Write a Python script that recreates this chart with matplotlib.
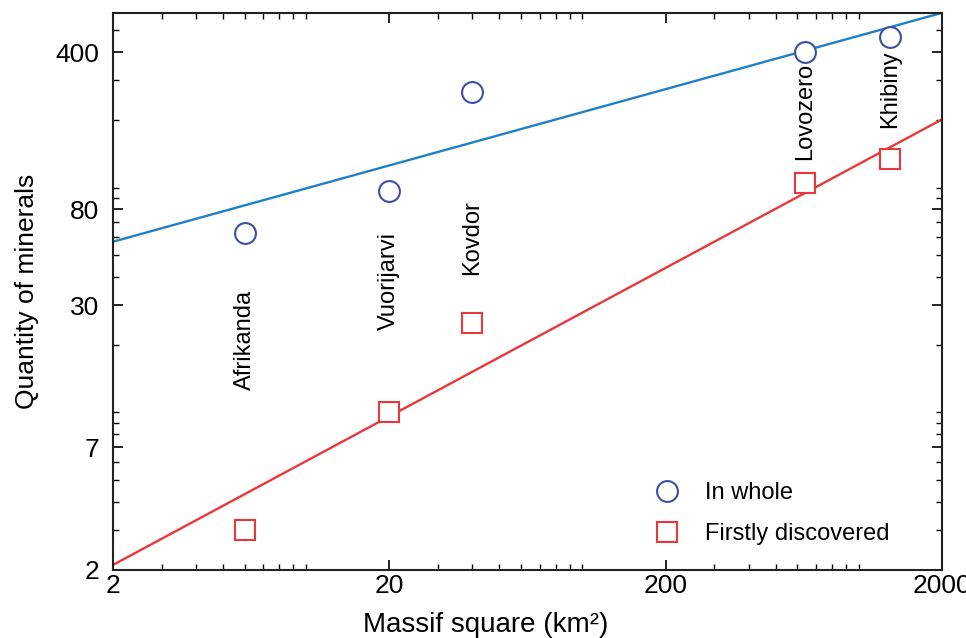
import matplotlib
matplotlib.use('Agg')
import matplotlib.pyplot as plt
from matplotlib.ticker import FixedLocator, LogLocator, NullFormatter
import numpy as np

plt.rcParams['font.family'] = ['Liberation Sans', 'DejaVu Sans']

# ── Data ────────────────────────────────────────────────────────────────────
massifs      = ['Afrikanda', 'Vuorijarvi', 'Kovdor', 'Lovozero', 'Khibiny']
area_km2     = [6, 20, 40, 640, 1300]
n_whole      = [63, 96, 266, 400, 468]
n_first      = [3, 10, 25, 105, 134]
label_y      = [12.6, 23.3, 41, 133, 184]   # where each name starts (bottom)

# power-law fits y = a * x**b
fit_whole = (45.4, 0.339)
fit_first = (1.33, 0.660)

x_ticks = [2, 20, 200, 2000]
y_ticks = [2, 7, 30, 80, 400]

BLUE_PT  = '#3c4fa3'
BLUE_LN  = '#1f80c8'
RED      = '#e8383b'

# ── Plot ────────────────────────────────────────────────────────────────────
fig = plt.figure(figsize=(9.66, 6.38), dpi=100)
ax = fig.add_axes([0.117, 0.107, 0.858, 0.873])
ax.set_xscale('log')
ax.set_yscale('log')
ax.set_xlim(2, 2000)
ax.set_ylim(2, 598)

xx = np.logspace(np.log10(2), np.log10(2000), 50)
ax.plot(xx, fit_whole[0] * xx ** fit_whole[1], color=BLUE_LN, lw=1.7, zorder=2)
ax.plot(xx, fit_first[0] * xx ** fit_first[1], color=RED, lw=1.7, zorder=2)

ax.plot(area_km2, n_whole, 'o', ms=15, mfc='white', mec=BLUE_PT, mew=1.5,
        ls='none', label='In whole', zorder=3)
ax.plot(area_km2, n_first, 's', ms=15, mfc='white', mec=RED, mew=1.5,
        ls='none', label='Firstly discovered', zorder=3)

for name, x, y in zip(massifs, area_km2, label_y):
    ax.text(x, y, name, rotation=90, ha='center', va='bottom', fontsize=17)

ax.xaxis.set_major_locator(FixedLocator(x_ticks))
ax.set_xticklabels([str(v) for v in x_ticks])
ax.yaxis.set_major_locator(FixedLocator(y_ticks))
ax.set_yticklabels([str(v) for v in y_ticks])
ax.xaxis.set_minor_locator(LogLocator(base=10, subs=np.arange(1, 10), numticks=20))
ax.yaxis.set_minor_locator(LogLocator(base=10, subs=np.arange(1, 10), numticks=20))
ax.xaxis.set_minor_formatter(NullFormatter())
ax.yaxis.set_minor_formatter(NullFormatter())

ax.tick_params(which='both', direction='in', top=True, right=True, labelsize=19)
ax.tick_params(which='major', length=7, width=1.2)
ax.tick_params(which='minor', length=4, width=1.0)
ax.tick_params(axis='x', pad=3)
ax.tick_params(axis='y', pad=10)
for sp in ax.spines.values():
    sp.set_linewidth(1.5)
    sp.set_color('#222222')

ax.set_xlabel('Massif square (km²)', fontsize=20)
ax.xaxis.set_label_coords(0.45, -0.075)
ax.set_ylabel('Quantity of minerals', fontsize=19, labelpad=12)

ax.legend(loc='lower right', bbox_to_anchor=(0.957, 0.015), frameon=False,
          fontsize=17, handletextpad=0.6, labelspacing=0.8, borderaxespad=0.3)

plt.savefig('out.png', dpi=100, facecolor='white')
